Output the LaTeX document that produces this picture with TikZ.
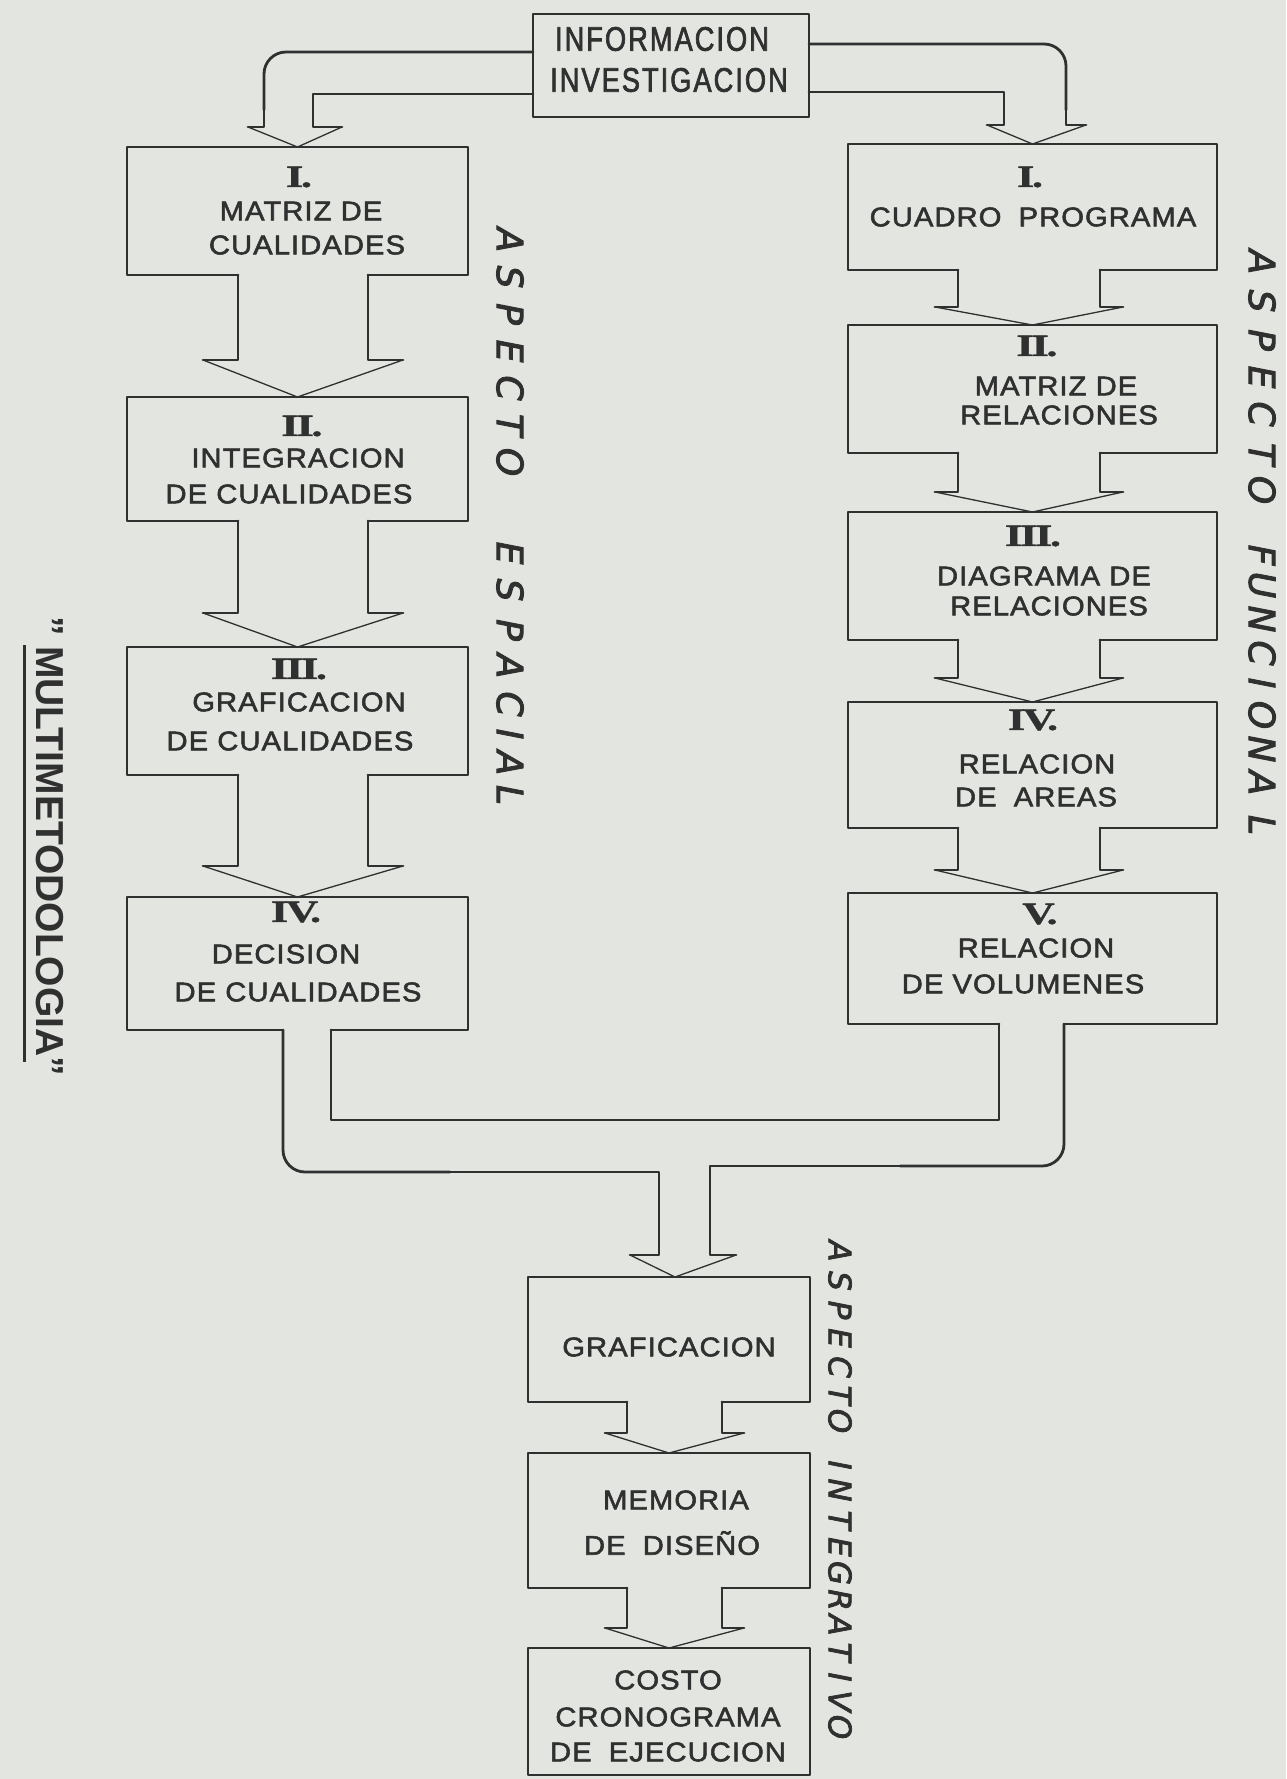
\documentclass[tikz,border=0pt]{standalone}
\usepackage{fontspec}
\setmainfont{Liberation Sans}
\newfontfamily\numfont[FakeStretch=1.45,LetterSpace=-8,FakeBold=1]{Liberation Serif}
\newfontfamily\handfont{DejaVu Sans}

\definecolor{ink}{HTML}{303030}
\definecolor{paper}{HTML}{E3E5E1}

% open panel: rectangle whose bottom edge leaves a gap for the outgoing stem
\newcommand\panelopen[3]{%
  \draw[edge] (#2,0 |- #1.south) -- (#1.south west) -- (#1.north west)
    -- (#1.north east) -- (#1.south east) -- (#3,0 |- #1.south);}

% block arrow from one panel down to the next
% #1 from, #2 to, #3/#4 stem x, #5 wing y, #6 wing overhang
\newcommand\stemarrow[6]{%
  \draw[edge] (#3,0 |- #1.south) -- (#3,#5) -- ({#3-#6},#5);
  \draw[edge] (#4,0 |- #1.south) -- (#4,#5) -- ({#4+#6},#5);
  \draw[wing] ({#3-#6},#5) -- (#2.north) -- ({#4+#6},#5);}

\begin{document}
\begin{tikzpicture}[x=1pt,y=-1pt,
  edge/.style={draw=ink, line width=2.8pt, line join=round, line cap=round},
  wing/.style={draw=ink, line width=1.3pt, line join=round, line cap=round},
  panel/.style 2 args={minimum width=#1, minimum height=#2, inner sep=0pt, outer sep=0pt},
  txt/.style={text=ink, inner sep=0pt, outer sep=0pt,
    font=\fontsize{27}{27}\selectfont\addfontfeatures{FakeStretch=1.08,LetterSpace=4,FakeBold=2}},
  bigtxt/.style={text=ink, inner sep=0pt, outer sep=0pt,
    font=\fontsize{34}{34}\selectfont\addfontfeatures{FakeStretch=0.8,LetterSpace=6,FakeBold=2}},
  num/.style={text=ink, inner sep=0pt, outer sep=0pt,
    font=\numfont\bfseries\fontsize{31}{31}\selectfont},
  vlet/.style={text=ink, inner sep=0pt, outer sep=0pt, rotate=-90,
    font=\handfont\itshape\fontsize{36}{36}\selectfont\addfontfeatures{FakeBold=2.5}},
  vsmall/.style={vlet, font=\handfont\itshape\fontsize{31}{31}\selectfont\addfontfeatures{FakeBold=2.5}},
  title/.style={text=ink, inner sep=0pt, outer sep=0pt, rotate=-90,
    font=\bfseries\fontsize{39}{39}\selectfont}]

\useasboundingbox (0,0) rectangle (1286,1779);
\fill[paper] (0,0) rectangle (1286,1779);

% ---------- panels ----------
\node[panel={276pt}{103pt}] (info) at (671,65.5) {};
\node[panel={341pt}{128pt}] (L1) at (297.5,211) {};
\node[panel={341pt}{124pt}] (L2) at (297.5,459) {};
\node[panel={341pt}{128pt}] (L3) at (297.5,711) {};
\node[panel={341pt}{133pt}] (L4) at (297.5,963.5) {};
\node[panel={369pt}{126pt}] (R1) at (1032.5,207) {};
\node[panel={369pt}{128pt}] (R2) at (1032.5,389) {};
\node[panel={369pt}{128pt}] (R3) at (1032.5,576) {};
\node[panel={369pt}{126pt}] (R4) at (1032.5,765) {};
\node[panel={369pt}{131pt}] (R5) at (1032.5,958.5) {};
\node[panel={282pt}{125pt}] (G) at (669,1339.5) {};
\node[panel={282pt}{135pt}] (M) at (669,1520.5) {};
\node[panel={282pt}{127pt}] (C) at (669,1711.5) {};

\draw[edge] (info.south west) rectangle (info.north east);
\panelopen{L1}{238}{368}
\panelopen{L2}{238}{368}
\panelopen{L3}{238}{368}
\panelopen{L4}{283}{331}
\panelopen{R1}{958}{1100}
\panelopen{R2}{958}{1100}
\panelopen{R3}{958}{1100}
\panelopen{R4}{958}{1100}
\panelopen{R5}{999}{1064}
\panelopen{G}{627}{722}
\panelopen{M}{627}{722}
\draw[edge] (C.south west) rectangle (C.north east);

% ---------- arrows out of the information box ----------
\draw[edge, rounded corners=22pt] (0,52 -| info.west) -- (264,52) -- (264,110);
\draw[edge] (264,110) -- (264,127) -- (248,127);
\draw[edge] (0,94 -| info.west) -- (313,94) -- (313,127) -- (342,127);
\draw[wing] (248,127) -- (L1.north) -- (342,127);

\draw[edge, rounded corners=22pt] (0,44 -| info.east) -- (1066,44) -- (1066,110);
\draw[edge] (1066,110) -- (1066,125) -- (1086,125);
\draw[edge] (0,92 -| info.east) -- (1004,92) -- (1004,125) -- (987,125);
\draw[wing] (987,125) -- (R1.north) -- (1086,125);

% ---------- arrows down the columns ----------
\stemarrow{L1}{L2}{238}{368}{360}{35}
\stemarrow{L2}{L3}{238}{368}{613}{35}
\stemarrow{L3}{L4}{238}{368}{866}{35}
\stemarrow{R1}{R2}{958}{1100}{307}{23}
\stemarrow{R2}{R3}{958}{1100}{492}{23}
\stemarrow{R3}{R4}{958}{1100}{678}{23}
\stemarrow{R4}{R5}{958}{1100}{870}{23}
\stemarrow{G}{M}{627}{722}{1433}{22}
\stemarrow{M}{C}{627}{722}{1628}{22}

% ---------- merging arrow into GRAFICACION ----------
\draw[edge, rounded corners=22pt] (283,0 |- L4.south) -- (283,1172) -- (450,1172);
\draw[edge] (450,1172) -- (659,1172) -- (659,1255) -- (630,1255);
\draw[edge, rounded corners=22pt] (1064,0 |- R5.south) -- (1064,1166) -- (900,1166);
\draw[edge] (900,1166) -- (710,1166) -- (710,1255) -- (736,1255);
\draw[edge] (331,0 |- L4.south) -- (331,1120) -- (999,1120) -- (999,0 |- R5.south);
\draw[wing] (630,1255) -- ([xshift=6pt]G.north) -- (736,1255);

% ---------- panel texts ----------
\node[bigtxt] (infoA) at (662,39) {INFORMACION};
\node[bigtxt] (infoB) at (669,80) {INVESTIGACION};

\node[num] (L1n) at (299,177) {I.};
\node[txt] (L1a) at (301,211) {MATRIZ DE};
\node[txt] (L1b) at (307,245) {CUALIDADES};

\node[num] (L2n) at (302,426) {II.};
\node[txt] (L2a) at (298,458) {INTEGRACION};
\node[txt] (L2b) at (289,494) {DE CUALIDADES};

\node[num] (L3n) at (299,669) {III.};
\node[txt] (L3a) at (299,702) {GRAFICACION};
\node[txt] (L3b) at (290,741) {DE CUALIDADES};

\node[num] (L4n) at (296,912) {IV.};
\node[txt] (L4a) at (286,954) {DECISION};
\node[txt] (L4b) at (298,992) {DE CUALIDADES};

\node[num] (R1n) at (1030,177) {I.};
\node[txt] (R1a) at (1033,217) {CUADRO\hspace{8pt} PROGRAMA};

\node[num] (R2n) at (1037,346) {II.};
\node[txt] (R2a) at (1056,386) {MATRIZ DE};
\node[txt] (R2b) at (1059,415) {RELACIONES};

\node[num] (R3n) at (1033,536) {III.};
\node[txt] (R3a) at (1044,576) {DIAGRAMA DE};
\node[txt] (R3b) at (1049,606) {RELACIONES};

\node[num] (R4n) at (1033,720) {IV.};
\node[txt] (R4a) at (1037,764) {RELACION};
\node[txt] (R4b) at (1036,797) {DE\hspace{8pt} AREAS};

\node[num] (R5n) at (1040,914) {V.};
\node[txt] (R5a) at (1036,948) {RELACION};
\node[txt] (R5b) at (1023,984) {DE VOLUMENES};

\node[txt] (Ga) at (669,1347) {GRAFICACION};
\node[txt] (Ma) at (676,1500) {MEMORIA};
\node[txt] (Mb) at (672,1543) {DE\hspace{8pt} DISEÑO};
\node[txt] (Ca) at (668,1680) {COSTO};
\node[txt] (Cb) at (668,1717) {CRONOGRAMA};
\node[txt] (Cc) at (668,1752) {DE\hspace{8pt} EJECUCION};

% ---------- vertical side labels ----------
\foreach \ch/\y [count=\i] in {A/240,S/277,P/314,E/351,C/388,T/425,O/462,
    E/553,S/590,P/630,A/666,C/704,I/734,A/763,L/795}
  \node[vlet] (esp\i) at (510,\y) {\ch};

\foreach \ch/\y [count=\i] in {A/262,S/301,P/340,E/377,C/414,T/454,O/490,
    F/555,U/585,N/619,C/653,I/683,O/715,N/749,A/783,L/825}
  \node[vlet] (fun\i) at (1262,\y) {\ch};

\foreach \ch/\y [count=\i] in {A/1251,S/1281,P/1310,E/1338,C/1367,T/1395,O/1421,
    I/1465,N/1490,T/1520,E/1547,G/1573,R/1600,A/1625,T/1652,I/1677,V/1701,O/1727}
  \node[vsmall] (int\i) at (840,\y) {\ch};

\node[title, anchor=base west] (multi) at (36,616) {\char34\ MULTIMETODOLOGIA\char34};
\draw[ink, line width=3pt] (24,645) -- (24,1062);

\end{tikzpicture}
\end{document}
